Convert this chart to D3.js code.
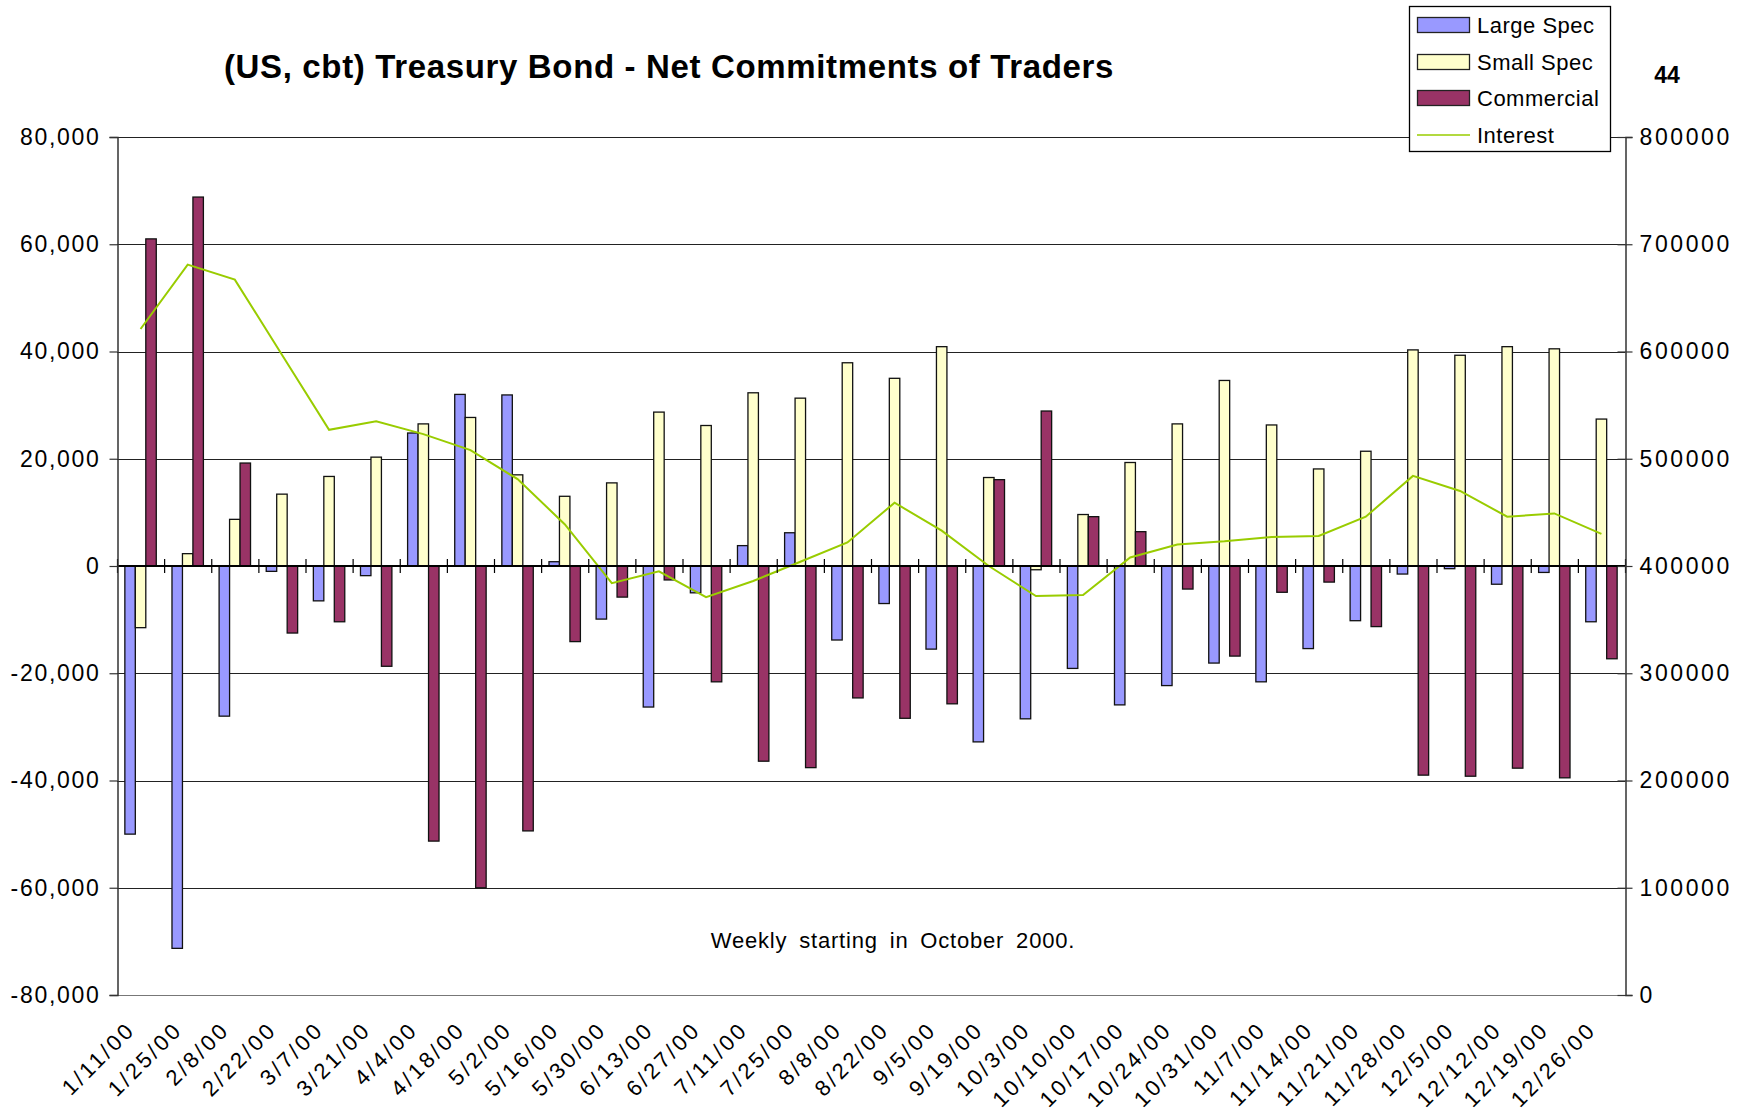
<!DOCTYPE html>
<html>
<head>
<meta charset="utf-8">
<script src="https://cdn.jsdelivr.net/npm/d3@7"></script>
<style>
  html, body { margin: 0; padding: 0; background: #fff; }
  svg { display: block; }
  text { font-family: "Liberation Sans", Arial, sans-serif; fill: #000; }
</style>
</head>
<body>
<svg id="chart" width="1743" height="1114"></svg>
<script>
// ---------- data ----------
const categories = ["1/11/00","1/25/00","2/8/00","2/22/00","3/7/00","3/21/00","4/4/00","4/18/00","5/2/00","5/16/00","5/30/00","6/13/00","6/27/00","7/11/00","7/25/00","8/8/00","8/22/00","9/5/00","9/19/00","10/3/00","10/10/00","10/17/00","10/24/00","10/31/00","11/7/00","11/14/00","11/21/00","11/28/00","12/5/00","12/12/00","12/19/00","12/26/00"];

const largeSpec  = [-50000,-71300,-28000,-1000,-6500,-1800,24800,32000,31900,800,-9900,-26300,-5000,3800,6200,-13800,-7000,-15500,-32800,-28500,-19100,-25900,-22300,-18100,-21600,-15400,-10200,-1500,-500,-3400,-1200,-10400];
const smallSpec  = [-11500,2300,8700,13400,16700,20300,26500,27700,17000,13000,15500,28700,26200,32300,31300,37900,35000,40900,16500,-700,9600,19300,26500,34600,26300,18100,21400,40300,39300,40900,40500,27400];
const commercial = [61000,68800,19200,-12500,-10400,-18700,-51300,-60000,-49400,-14100,-5800,-2600,-21600,-36400,-37600,-24600,-28400,-25700,16100,28900,9200,6400,-4300,-16800,-4900,-3000,-11300,-39000,-39200,-37700,-39500,-17300];
const interest   = [621000,681000,667000,597000,527000,535000,523000,508000,481000,439000,384000,395000,371000,386000,404000,422000,459000,433000,400000,372000,373000,408000,420000,423000,427000,428000,446000,484000,470000,446000,449000,430000];

const seriesNames  = ["Large Spec","Small Spec","Commercial"];
const seriesColors = ["#9999FF","#FFFFCC","#993366"];
const lineName  = "Interest";
const lineColor = "#99CC00";

const leftTicks  = [-80000,-60000,-40000,-20000,0,20000,40000,60000,80000];
const rightTicks = [0,100000,200000,300000,400000,500000,600000,700000,800000];

const titleText = "(US, cbt) Treasury Bond - Net Commitments of Traders";
const noteText  = "Weekly starting in October 2000.";
const cornerText = "44";

// ---------- layout ----------
const FONT = '"Liberation Sans", Arial, sans-serif';
const L = 117, R = 1625, T = 137, B = 995;
const svg = d3.select("#chart");

const x = d3.scaleBand().domain(categories).range([L, R])
  .paddingInner(1/3).paddingOuter(1/6);
const xs = d3.scaleBand().domain(d3.range(3)).range([0, x.bandwidth()]).padding(0);
const y = d3.scaleLinear().domain([-80000, 80000]).range([B, T]);
const y2 = d3.scaleLinear().domain([0, 800000]).range([B, T]);
const step = x.step();

// gridlines
svg.append("g").selectAll("line").data(leftTicks).join("line")
  .attr("x1", L).attr("x2", R)
  .attr("y1", d => Math.round(y(d)) + 0.5).attr("y2", d => Math.round(y(d)) + 0.5)
  .attr("stroke", d => d === -80000 ? "#777" : "#222").attr("stroke-width", 1.2);

// bars
const series = [largeSpec, smallSpec, commercial];
series.forEach((vals, si) => {
  svg.append("g").selectAll("rect").data(vals).join("rect")
    .attr("x", (d, i) => x(categories[i]) + xs(si))
    .attr("width", xs.bandwidth())
    .attr("y", d => y(Math.max(0, d)))
    .attr("height", d => Math.abs(y(d) - y(0)))
    .attr("fill", seriesColors[si])
    .attr("stroke", "#111").attr("stroke-width", 1.3);
});

// interest line
const line = d3.line()
  .x((d, i) => x(categories[i]) + x.bandwidth() / 2)
  .y(d => y2(d));
svg.append("path").datum(interest)
  .attr("d", line).attr("fill", "none")
  .attr("stroke", lineColor).attr("stroke-width", 2);

// zero (category) axis line with cross ticks
const y0 = y(0);
svg.append("line").attr("x1", L).attr("x2", R).attr("y1", y0).attr("y2", y0)
  .attr("stroke", "#000").attr("stroke-width", 2.2);
svg.append("g").selectAll("line").data(d3.range(categories.length + 1)).join("line")
  .attr("x1", i => L + i * step + 0.5).attr("x2", i => L + i * step + 0.5)
  .attr("y1", y0 - 7).attr("y2", y0 + 7)
  .attr("stroke", "#000").attr("stroke-width", 1.2);

// left axis
const fmtLeft = v => d3.format(",")(v).replace("\u2212", "-");
const leftAxis = d3.axisLeft(y).tickValues(leftTicks).tickFormat(fmtLeft).tickSize(8).tickPadding(9);
const gl = svg.append("g").attr("transform", `translate(${L + 0.5},0)`).call(leftAxis);
gl.select(".domain").attr("stroke", "#333").attr("stroke-width", 1.5);
gl.selectAll(".tick line").attr("stroke", "#333").attr("stroke-width", 1.2);
gl.selectAll(".tick text").style("font-family", FONT)
  .style("font-size", "23px").style("letter-spacing", "1.7px").attr("fill", "#000");

// right axis (cross ticks)
const rightAxis = d3.axisRight(y2).tickValues(rightTicks).tickFormat(d3.format("d")).tickSize(7).tickPadding(7);
const gr = svg.append("g").attr("transform", `translate(${R + 0.5},0)`).call(rightAxis);
gr.select(".domain").attr("stroke", "#333").attr("stroke-width", 1.5);
gr.selectAll(".tick line").attr("x1", -8).attr("stroke", "#333").attr("stroke-width", 1.2);
gr.selectAll(".tick text").style("font-family", FONT)
  .style("font-size", "23px").style("letter-spacing", "2.6px").attr("fill", "#000");

// category labels
svg.append("g").selectAll("text").data(categories).join("text")
  .attr("transform", d => `translate(${x(d) + x.bandwidth() / 2 - 4},${B + 36}) rotate(-45)`)
  .attr("text-anchor", "end")
  .style("font-size", "22px").style("letter-spacing", "3px")
  .text(d => d);

// title
svg.append("text").attr("x", 669).attr("y", 78).attr("text-anchor", "middle")
  .style("font-size", "33px").style("font-weight", "bold").style("letter-spacing", "0.65px").text(titleText);

// corner number
svg.append("text").attr("x", 1667).attr("y", 83).attr("text-anchor", "middle")
  .style("font-size", "23px").style("font-weight", "bold").text(cornerText);

// note
svg.append("text").attr("x", 893).attr("y", 948).attr("text-anchor", "middle")
  .style("font-size", "22px").style("letter-spacing", "0.8px").style("word-spacing", "5px").text(noteText);

// legend
const lg = svg.append("g");
lg.append("rect").attr("x", 1409.5).attr("y", 6.5).attr("width", 201).attr("height", 145)
  .attr("fill", "#fff").attr("stroke", "#000").attr("stroke-width", 1.3);
const legendRows = [25, 62, 98, 135];
seriesNames.forEach((n, i) => {
  lg.append("rect").attr("x", 1417.5).attr("y", legendRows[i] - 7.5).attr("width", 52).attr("height", 15)
    .attr("fill", seriesColors[i]).attr("stroke", "#222").attr("stroke-width", 1.3);
  lg.append("text").attr("x", 1477).attr("y", legendRows[i] + 8)
    .style("font-size", "22px").style("letter-spacing", "0.5px").text(n);
});
lg.append("line").attr("x1", 1417).attr("x2", 1470).attr("y1", legendRows[3]).attr("y2", legendRows[3])
  .attr("stroke", lineColor).attr("stroke-width", 1.3);
lg.append("text").attr("x", 1477).attr("y", legendRows[3] + 8)
  .style("font-size", "22px").style("letter-spacing", "0.5px").text(lineName);
</script>
</body>
</html>
